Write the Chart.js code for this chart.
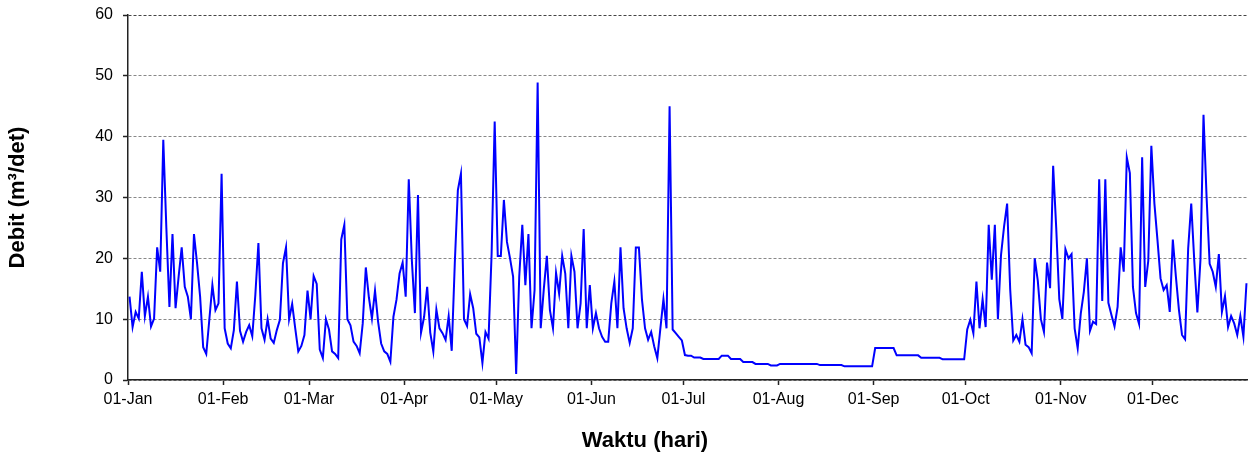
<!DOCTYPE html>
<html>
<head>
<meta charset="utf-8">
<script src="https://cdn.jsdelivr.net/npm/chart.js@4"></script>
<style>
  html, body { margin: 0; padding: 0; background: #fff; }
  #wrap { width: 1248px; height: 457px; }
</style>
</head>
<body>
<div id="wrap"><canvas id="debit-chart" width="1248" height="457"></canvas></div>
<script>
// daily discharge (m3/det), one array per month
const jan = [13.7, 8.7, 11.2, 10.1, 17.8, 10.5, 13.7, 8.8, 10.1, 21.8, 17.8, 39.5, 25, 12, 24, 11.8, 17, 21.8, 15.3, 13.7, 10, 24, 19.2, 13.7, 5.4, 4.3, 9.9, 15.6, 11.5, 12.6, 33.9];
const feb = [8.5, 6, 5.2, 8.2, 16.2, 8.1, 6.3, 7.9, 9, 7.2, 14, 22.5, 8.5, 6.6, 10, 6.8, 6.1, 8.2, 9.9, 19.2, 21.8, 10, 12.5, 8.5, 4.7, 5.6, 7.4, 14.7];
const mar = [10, 17.1, 15.8, 5, 3.6, 10, 8.3, 4.7, 4.3, 3.6, 23.1, 25.5, 10, 9, 6.3, 5.6, 4.4, 9.3, 18.5, 13.6, 10.1, 14.7, 9.6, 6, 4.7, 4.3, 3, 10.4, 13.2, 17.5, 19.3];
const apr = [13.7, 33, 19.7, 11, 30.4, 7.8, 10.4, 15.3, 7.8, 4.7, 11.6, 8.5, 7.7, 6.6, 10.5, 4.8, 19.2, 31.2, 33.9, 10, 8.9, 14.1, 11.8, 7.6, 7, 2.8, 7.9, 6.8, 20.8, 42.5];
const may = [20.4, 20.4, 29.6, 22.7, 20, 17, 1, 17, 25.5, 15.6, 24, 8.5, 14.8, 48.9, 8.5, 14.9, 20.4, 11.5, 8.5, 17.6, 14.2, 20.4, 17.5, 8.5, 20.4, 17.8, 8.5, 12.6, 24.8, 8.5, 15.6];
const jun = [8.5, 11, 8.5, 7.1, 6.3, 6.3, 12.6, 16.2, 8.5, 21.8, 11.8, 8.5, 6.1, 8.5, 21.8, 21.8, 13.2, 8.5, 6.6, 7.9, 5.5, 3.6, 8.5, 13.3, 8.5, 45, 8.3, 7.7, 7.1, 6.5];
const jul = [4.1, 4, 4, 3.7, 3.7, 3.7, 3.45, 3.45, 3.45, 3.45, 3.45, 3.45, 4, 4, 4, 3.45, 3.45, 3.45, 3.45, 2.95, 2.95, 2.95, 2.95, 2.65, 2.65, 2.65, 2.65, 2.65, 2.4, 2.4, 2.4];
const aug = [2.65, 2.65, 2.65, 2.65, 2.65, 2.65, 2.65, 2.65, 2.65, 2.65, 2.65, 2.65, 2.65, 2.45, 2.45, 2.45, 2.45, 2.45, 2.45, 2.45, 2.45, 2.25, 2.25, 2.25, 2.25, 2.25, 2.25, 2.25, 2.25, 2.25, 2.25];
const sep = [5.25, 5.25, 5.25, 5.25, 5.25, 5.25, 5.25, 4.05, 4.05, 4.05, 4.05, 4.05, 4.05, 4.05, 4.05, 3.65, 3.65, 3.65, 3.65, 3.65, 3.65, 3.65, 3.4, 3.4, 3.4, 3.4, 3.4, 3.4, 3.4, 3.4];
const oct = [8.3, 9.9, 7.7, 16.2, 8.5, 13.3, 8.7, 25.5, 16.5, 25.5, 10, 20.5, 25.2, 29, 14.9, 6.5, 7.4, 6.3, 10, 5.8, 5.4, 4.4, 20, 16.3, 10, 7.9, 19.3, 15.1, 35.2, 25, 13.3];
const nov = [10, 21.5, 20, 20.7, 8.5, 5.2, 10.9, 14.5, 20, 8.1, 9.6, 9.2, 33, 13, 33, 12.7, 10.7, 8.8, 12, 21.8, 17.8, 36.6, 34, 15.3, 11, 9.2, 36.6, 15.3, 19.6, 38.5];
const dec = [29, 23, 16.7, 14.8, 15.6, 11.2, 23.1, 17, 11.5, 7.4, 6.7, 21.6, 29, 19.5, 11.1, 19.7, 43.6, 30.1, 19.1, 17.8, 15.3, 20.7, 11.2, 13.8, 8.7, 10.5, 9.3, 7.4, 10.5, 7.1, 15.9];

const months = [jan, feb, mar, apr, may, jun, jul, aug, sep, oct, nov, dec];
const tickLabels = ["01-Jan", "01-Feb", "01-Mar", "01-Apr", "01-May", "01-Jun", "01-Jul", "01-Aug", "01-Sep", "01-Oct", "01-Nov", "01-Dec"];
const yTicks = [0, 10, 20, 30, 40, 50, 60];

const X_TITLE = "Waktu (hari)";
const Y_TITLE = "Debit (m³/det)";

const byId = (id) => document.getElementById(id);

// day index where each month starts
const monthStart = [];
months.reduce((day, m) => { monthStart.push(day); return day + m.length; }, 0);

// each daily value is plotted at mid-day
const debit = months.flat();
const points = debit.map((v, i) => ({ x: i + 0.5, y: v }));

const FONT = "'Liberation Sans', Arial, sans-serif";

// x title sits left of the plot centre in the original, so draw it ourselves
const xTitlePlugin = {
  id: "xTitle",
  afterDraw(chart) {
    const { ctx } = chart;
    ctx.save();
    ctx.font = `bold 22px ${FONT}`;
    ctx.fillStyle = "#000";
    ctx.textAlign = "center";
    ctx.textBaseline = "middle";
    ctx.fillText(X_TITLE, 645, 441);
    ctx.restore();
  }
};

new Chart(byId("debit-chart"), {
  type: "line",
  data: {
    datasets: [{
      data: points,
      borderColor: "#0000ff",
      borderWidth: 2,
      pointRadius: 0,
      tension: 0,
      fill: false
    }]
  },
  options: {
    responsive: false,
    animation: false,
    events: [],
    layout: { padding: { top: 15, right: 0, bottom: 0, left: 0 } },
    plugins: { legend: { display: false }, tooltip: { enabled: false } },
    scales: {
      x: {
        type: "linear",
        min: 0,
        max: debit.length,
        afterBuildTicks: (scale) => { scale.ticks = monthStart.map((v) => ({ value: v })); },
        afterFit: (scale) => { scale.height = 77; },
        ticks: {
          autoSkip: false,
          maxRotation: 0,
          color: "#000",
          padding: 5,
          font: { family: FONT, size: 16 },
          callback: (value) => tickLabels[monthStart.indexOf(value)]
        },
        grid: { drawOnChartArea: false, tickLength: 5, tickColor: "#222", tickWidth: 1.5 },
        border: { color: "#222", width: 1.5 }
      },
      y: {
        min: 0,
        max: 60,
        afterBuildTicks: (scale) => { scale.ticks = yTicks.map((v) => ({ value: v })); },
        afterFit: (scale) => {
          scale.width = 128;
          scale.paddingTop = 0;
          scale.paddingBottom = 0;
        },
        ticks: { color: "#000", padding: 10, font: { family: FONT, size: 16 } },
        grid: {
          color: (ctx) => (ctx.tick && ctx.tick.value === 60 ? "#444" : "#888"),
          tickLength: 5,
          tickColor: "#222",
          tickWidth: 1.5,
          tickBorderDash: []
        },
        border: { color: "#222", width: 1.5, dash: [3, 2] },
        title: {
          display: true,
          text: Y_TITLE,
          color: "#000",
          font: { family: FONT, size: 22, weight: "bold" },
          padding: { top: 5, bottom: 0 }
        }
      }
    }
  },
  plugins: [xTitlePlugin]
});
</script>
</body>
</html>
